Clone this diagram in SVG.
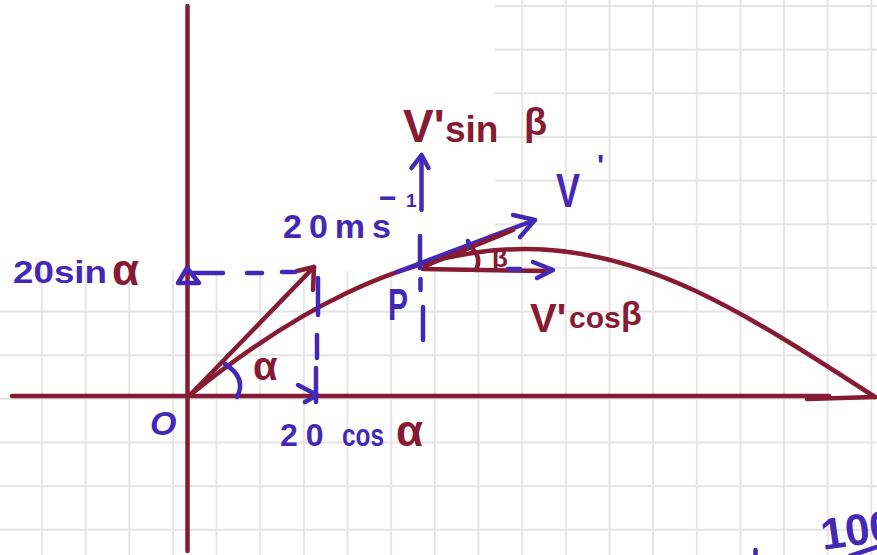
<svg xmlns="http://www.w3.org/2000/svg" width="877" height="555" viewBox="0 0 877 555">
<defs>
<pattern id="grid" x="41" y="5" width="43.65" height="43.65" patternUnits="userSpaceOnUse">
<path d="M1,0 V43.65 M0,1 H43.65" stroke="#e4e4e4" stroke-width="1.8" fill="none"/>
</pattern>
<style>
.lm{stroke:#861b33;stroke-width:4.5;fill:none;stroke-linecap:round;stroke-linejoin:round}
.lb{stroke:#4329b6;stroke-width:4.5;fill:none;stroke-linecap:round;stroke-linejoin:round}
.tm{fill:#861b33;font-family:"Liberation Sans",Arial,sans-serif;font-weight:bold}
.tb{fill:#4329b6;font-family:"Liberation Sans",Arial,sans-serif;font-weight:bold}
</style>
</defs>
<rect width="877" height="555" fill="#ffffff"/>
<rect width="877" height="555" fill="url(#grid)"/>
<rect x="0" y="0" width="495" height="271" fill="#ffffff"/>

<g id="axes">
<path class="lm" d="M187.5,6 V551"/>
<path class="lm" d="M12,396 H829"/>
<path class="lm" d="M807,399 L875,397"/>
</g>

<g id="trajectory">
<path class="lm" d="M189,396 C285,318 400,249 525,249 C645,249 745,312.5 875,397"/>
</g>

<g id="initial-velocity">
<path class="lm" d="M190,395 L314,267"/>
<path class="lm" d="M297,271 L314,267 L313,290"/>
</g>

<g id="components-initial">
<path class="lb" d="M178,283 L187,268 L199,283 Z"/>
<path class="lb" d="M190,273 H223 M247,273 H262 M282,272 H295"/>
<path class="lb" d="M318,278 V315 M317,335 V358 M316,368 V402"/>
<path class="lb" d="M298,385 L317,395 L305,402"/>
<path class="lb" d="M225,364 Q247,378 237,397"/>
</g>

<g id="velocity-at-P">
<path class="lb" d="M397,272 L535,220"/>
<path class="lb" d="M513,215 L535,220 L520,237"/>
<path class="lm" d="M425,266 L513,230"/>
<path class="lm" d="M423,269 L545,271" stroke-width="5.5"/>
<path class="lb" d="M508,269 H520"/>
<path class="lb" d="M533,262 L553,270 L537,278"/>
<path class="lb" d="M421.5,210 V157"/>
<path class="lb" d="M411.5,168 L421.5,155 L428.5,168"/>
<path class="lb" d="M420,236 V268 M420.5,279 V290 M423,307 V340"/>
<path class="lb" d="M468,241 L470,247"/>
<path class="lm" d="M472,248 Q482,258 476,270"/>
</g>

<g id="labels">
<text class="tb" x="13" y="283" font-size="32" textLength="94" lengthAdjust="spacingAndGlyphs">20sin</text>
<text class="tm" x="112" y="285" font-size="44">α</text>
<text class="tb" x="283" y="238" font-size="34" letter-spacing="7">20ms<tspan x="379" y="208" font-size="30" letter-spacing="0">−</tspan><tspan x="406" y="207" font-size="19" letter-spacing="0">1</tspan></text>
<text class="tm" y="142"><tspan x="403" font-size="46">V'</tspan><tspan x="445" font-size="37">sin</tspan><tspan x="524" y="135" font-size="38">β</tspan></text>
<text class="tb" x="556" y="207" font-size="48" textLength="24" lengthAdjust="spacingAndGlyphs">V</text>
<text class="tb" x="597" y="175" font-size="30">'</text>
<text class="tb" x="388" y="320" font-size="44" textLength="20" lengthAdjust="spacingAndGlyphs">P</text>
<text class="tm" x="492" y="267" font-size="26">β</text>
<text class="tm" y="332"><tspan x="530" font-size="40">V'</tspan><tspan x="569" y="328" font-size="30">cos</tspan><tspan x="621" y="325" font-size="34">β</tspan></text>
<text class="tm" x="253" y="380" font-size="40">α</text>
<text class="tb" x="150" y="435" font-size="34" font-style="italic">O</text>
<text class="tb" x="280" y="446" font-size="32" letter-spacing="8">20</text>
<text class="tb" x="342" y="446" font-size="32" textLength="42" lengthAdjust="spacingAndGlyphs">cos</text>
<text class="tm" x="396" y="446" font-size="44">α</text>
<text class="tb" x="823" y="550" font-size="44" transform="rotate(-8 823 550)">100</text>
</g>

<g id="marks">
<path class="lb" d="M755.5,550 V555"/>
<path class="lb" d="M850,556 L877,547"/>
</g>
</svg>
